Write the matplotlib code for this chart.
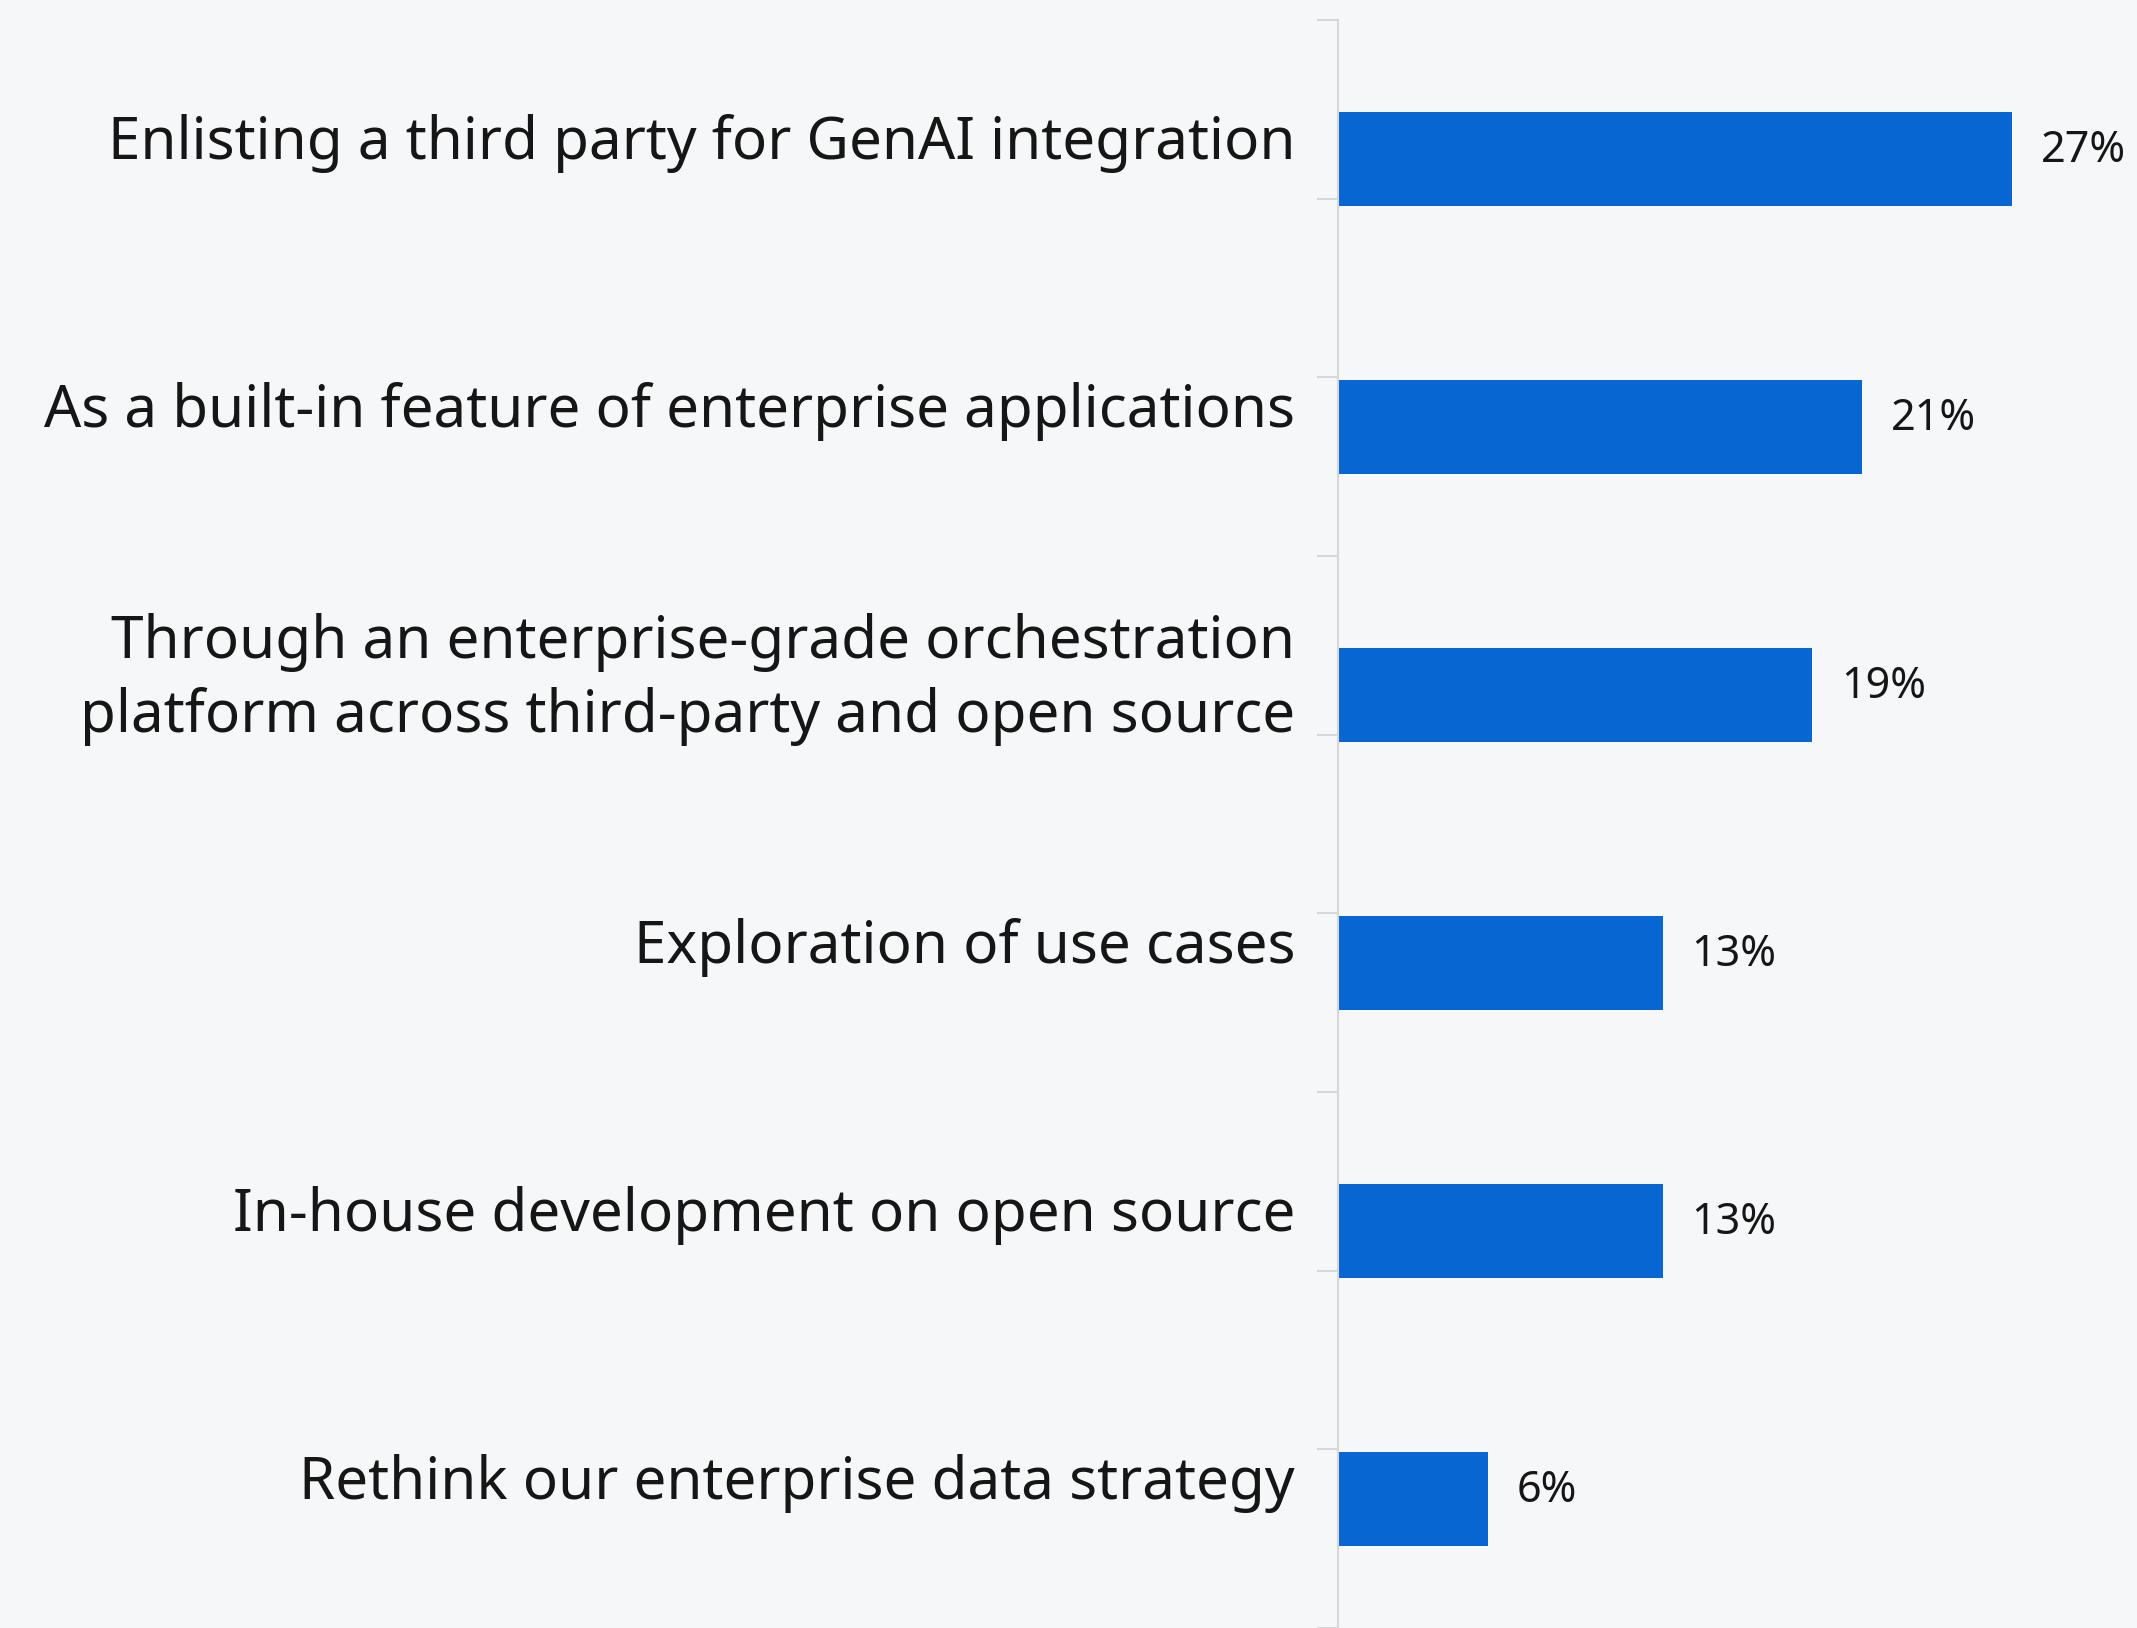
import matplotlib.pyplot as plt

categories = [
    "Enlisting a third party for GenAI integration",
    "As a built-in feature of enterprise applications",
    "Through an enterprise-grade orchestration\nplatform across third-party and open source",
    "Exploration of use cases",
    "In-house development on open source",
    "Rethink our enterprise data strategy",
]
values = [27, 21, 19, 13, 13, 6]
value_labels = ["27%", "21%", "19%", "13%", "13%", "6%"]

bg = "#f6f7f9"
bar_color = "#0866d2"
axis_color = "#d6d7da"

plt.rcParams["font.family"] = ["Noto Sans", "DejaVu Sans"]

fig = plt.figure(figsize=(21.37, 16.28), dpi=100, facecolor=bg)
ax = fig.add_axes([0.6261, 0.0, 0.3739, 0.9877])
ax.set_facecolor(bg)

ypos = list(range(len(categories)))
ax.barh(ypos, values, height=0.35, color=bar_color, zorder=2)

ax.set_xlim(0, 32)
ax.set_ylim(5.48, -0.52)

# odd tick layout of the original: 9 evenly spaced ticks down the axis
ticks = [-0.52 + k * 2 / 3 for k in range(10)]
ax.set_yticks(ticks)
ax.set_yticklabels([])
ax.tick_params(axis="y", length=15, width=1.5, color=axis_color, direction="out")
ax.set_xticks([])

for side in ["top", "right", "bottom"]:
    ax.spines[side].set_visible(False)
ax.spines["left"].set_color(axis_color)
ax.spines["left"].set_linewidth(1.5)

for y, cat in zip(ypos, categories):
    ax.text(-1.72, y - 0.058, cat, ha="right", va="center", fontsize=42,
            color="#161616", linespacing=1.34, clip_on=False)

for y, v, lab in zip(ypos, values, value_labels):
    ax.text(v + 1.15, y - 0.03, lab, ha="left", va="center", fontsize=31,
            color="#161616", clip_on=False)

fig.savefig("out.png", dpi=100, facecolor=bg)
